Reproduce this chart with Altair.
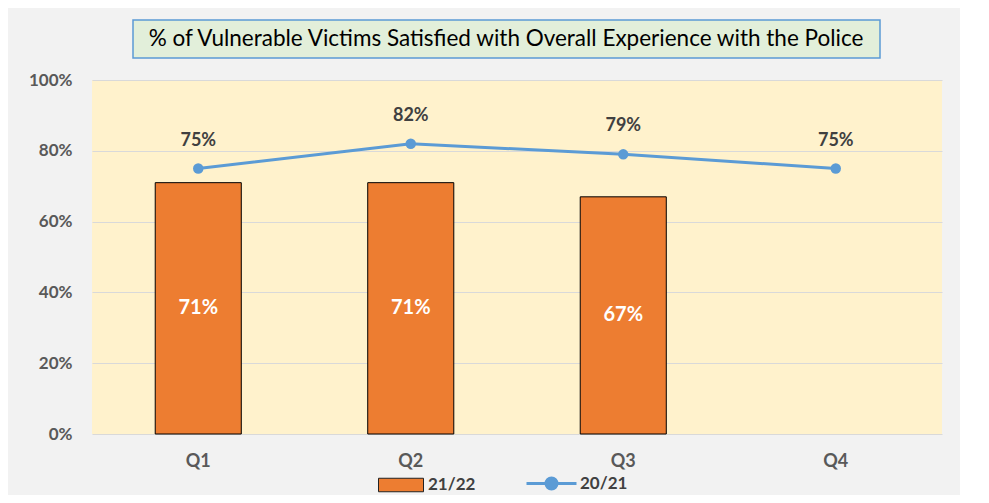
import altair as alt
import pandas as pd

quarters = ["Q1", "Q2", "Q3", "Q4"]
v_2122 = [0.71, 0.71, 0.67, None]
v_2021 = [0.75, 0.82, 0.79, 0.75]
y_ticks = [0, 0.2, 0.4, 0.6, 0.8, 1.0]
title_text = "% of Vulnerable Victims Satisfied with Overall Experience with the Police"

bars_df = pd.DataFrame({"q": quarters, "v": v_2122, "series": "21/22"}).dropna()
bars_df["mid"] = bars_df["v"] / 2
line_df = pd.DataFrame({"q": quarters, "v": v_2021, "series": "20/21"})

FONT = "Lato"
ORANGE = "#ED7D31"
BLUE = "#5B9BD5"

xenc = alt.X("q:N", sort=quarters, scale=alt.Scale(domain=quarters, paddingInner=0.595, paddingOuter=0.2975),
             axis=alt.Axis(title=None, labelAngle=0, domain=False, ticks=False, labelPadding=18,
                           labelFont=FONT, labelFontSize=18, labelFontWeight="bold", labelColor="#595959"))
yscale = alt.Scale(domain=[0, 1], nice=False)

bars = alt.Chart(bars_df).mark_bar(stroke="black", strokeWidth=1).encode(
    x=xenc,
    y=alt.Y("v:Q", scale=yscale,
            axis=alt.Axis(title=None, values=y_ticks, format=".0%", domain=False, ticks=False,
                          gridColor="#D9D9D9", gridWidth=1, labelPadding=20,
                          labelFont=FONT, labelFontSize=17, labelFontWeight="bold", labelColor="#595959")),
    fill=alt.Fill("series:N", scale=alt.Scale(domain=["21/22"], range=[ORANGE]),
                  legend=alt.Legend(title=None, orient="none", legendX=286, legendY=382,
                                    symbolType="M-1,-0.3H1V0.3H-1Z", symbolSize=2025,
                                    symbolStrokeColor="#222222", symbolStrokeWidth=1,
                                    labelFont=FONT, labelFontSize=17, labelFontWeight="bold",
                                    labelColor="#404040", labelOffset=4)),
)

bar_labels = alt.Chart(bars_df).mark_text(font=FONT, fontSize=20, fontWeight="bold", color="white",
                                          baseline="middle").encode(
    x=alt.X("q:N", sort=quarters), y=alt.Y("mid:Q"), text=alt.Text("v:Q", format=".0%"))

line = alt.Chart(line_df).mark_line(strokeWidth=3).encode(
    x=alt.X("q:N", sort=quarters),
    y="v:Q",
    stroke=alt.Stroke("series:N", scale=alt.Scale(domain=["20/21"], range=[BLUE]),
                      legend=alt.Legend(title=None, orient="none", legendX=433, legendY=377,
                                        symbolType="M-1,0H1M0.22,0A0.22,0.22,0,1,1,-0.22,0A0.22,0.22,0,1,1,0.22,0Z",
                                        symbolSize=2500, symbolStrokeWidth=3, symbolFillColor=BLUE,
                                        labelFont=FONT, labelFontSize=17, labelFontWeight="bold",
                                        labelColor="#404040", labelOffset=2)),
)
points = alt.Chart(line_df).mark_point(filled=True, size=110, color=BLUE, opacity=1).encode(
    x=alt.X("q:N", sort=quarters), y="v:Q")
line_labels = alt.Chart(line_df).mark_text(font=FONT, fontSize=18, fontWeight="bold", color="#404040",
                                           baseline="middle", dy=-28).encode(
    x=alt.X("q:N", sort=quarters), y="v:Q", text=alt.Text("v:Q", format=".0%"))

box_data = alt.Data(values=[{"t": title_text}])
title_box = alt.Chart(box_data).mark_rect(fill="#E2EFDA", stroke=BLUE, strokeWidth=1.5).encode(
    x=alt.value(41), x2=alt.value(788), y=alt.value(-60), y2=alt.value(-22))
title_txt = alt.Chart(box_data).mark_text(font=FONT, fontSize=22.5, color="#000000", baseline="middle",
                                          align="center").encode(
    x=alt.value(414), y=alt.value(-41), text="t:N")

chart = alt.layer(bars, bar_labels, line, points, line_labels, title_box, title_txt).resolve_scale(
    x="shared", y="shared"
).properties(
    width=850, height=354,
    background="#F2F2F2",
    padding={"left": 84, "top": 72, "right": 18, "bottom": 61},
    autosize=alt.AutoSizeParams(type="none"),
).configure_view(fill="#FFF2CC", stroke=None)

chart.save("out.html", embed_options={"renderer": "svg", "actions": False})
